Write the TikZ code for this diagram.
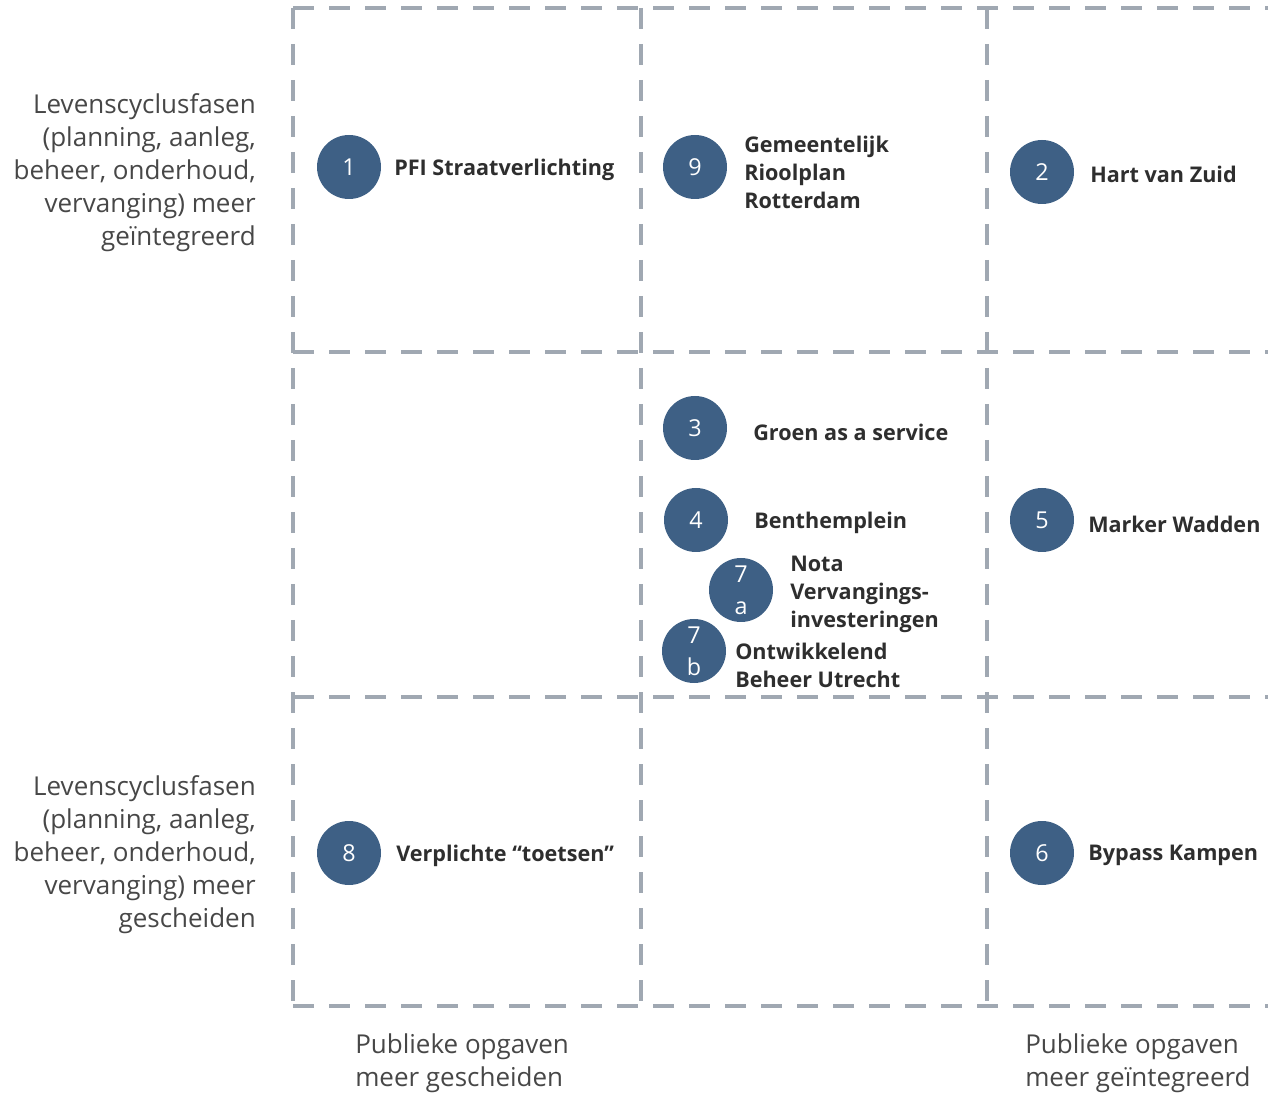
\documentclass[tikz,border=0pt]{standalone}
\usepackage{fontspec}
\setmainfont{Open Sans}
\definecolor{casenavy}{HTML}{3E6085}
\definecolor{gridgray}{HTML}{A0A8B2}
\tikzset{
  casedot/.style={circle, fill=casenavy, minimum size=48pt, inner sep=0pt,
    text=white, align=center, font=\fontsize{17.5}{24}\selectfont},
  casename/.style={anchor=west, align=left, inner sep=0pt, text=black!82,
    yshift=-2pt, font=\bfseries\fontsize{16.2}{21}\selectfont},
  axisnote/.style={inner sep=0pt, text=black!72, yshift=-2pt,
    font=\fontsize{19.5}{24.75}\selectfont},
  gridline/.style={gridgray, line width=3pt, dash pattern=on 16pt off 11pt}
}
\begin{document}
\begin{tikzpicture}[x=0.75pt, y=-0.75pt]
  \useasboundingbox (0,0) rectangle (1268,1094);
  % grid
  \foreach \gy in {8,352,697,1006}
    \draw[gridline] (293,\gy) -- (1268,\gy);
  \foreach \gx in {293,641,987}
    \draw[gridline] (\gx,8) -- (\gx,1006);
  % axis notes
  \node[axisnote, align=right, anchor=east] (lifeint) at (256,170)
    {Levenscyclusfasen\\(planning, aanleg,\\beheer, onderhoud,\\vervanging) meer\\geïntegreerd};
  \node[axisnote, align=right, anchor=east] (lifesep) at (256,852)
    {Levenscyclusfasen\\(planning, aanleg,\\beheer, onderhoud,\\vervanging) meer\\gescheiden};
  \node[axisnote, align=left, anchor=west] (pubsep) at (355,1061)
    {Publieke opgaven\\meer gescheiden};
  \node[axisnote, align=left, anchor=west] (pubint) at (1025,1061)
    {Publieke opgaven\\meer geïntegreerd};
  % top row
  \node[casedot] (c1) at (349,167) {1};
  \node[casename] (n1) at (394,167) {PFI Straatverlichting};
  \node[casedot] (c9) at (695,167) {9};
  \node[casename] (n9) at (744,170) {Gemeentelijk\\Rioolplan\\Rotterdam};
  \node[casedot] (c2) at (1042,172) {2};
  \node[casename] (n2) at (1090,172) {Hart van Zuid};
  % middle row
  \node[casedot] (c3) at (695,428) {3};
  \node[casename] (n3) at (753,430) {Groen as a service};
  \node[casedot] (c4) at (696,520) {4};
  \node[casename] (n4) at (754,520) {Benthemplein};
  \node[casedot] (c7a) at (741,590) {7\\a};
  \node[casename] (n7a) at (790,592) {Nota\\Vervangings-\\investeringen};
  \node[casedot] (c7b) at (694,651) {7\\b};
  \node[casename] (n7b) at (735,663) {Ontwikkelend\\Beheer Utrecht};
  \node[casedot] (c5) at (1042,520) {5};
  \node[casename] (n5) at (1088,522) {Marker Wadden};
  % bottom row
  \node[casedot] (c8) at (349,853) {8};
  \node[casename] (n8) at (396,853) {Verplichte “toetsen”};
  \node[casedot] (c6) at (1042,853) {6};
  \node[casename] (n6) at (1088,853) {Bypass Kampen};
\end{tikzpicture}
\end{document}
